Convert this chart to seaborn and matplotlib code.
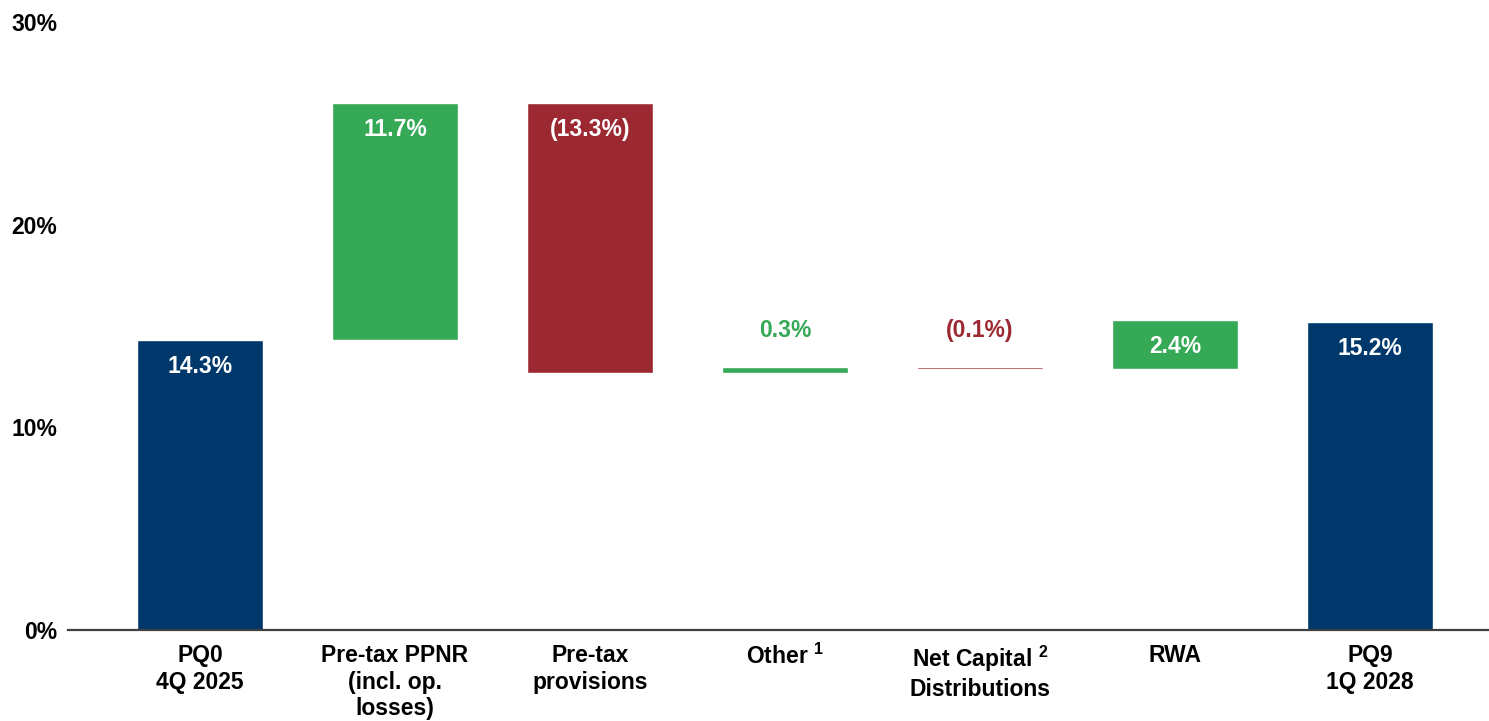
"""
Waterfall: evolución del ratio de capital PQ0 -> PQ9
"""
import numpy as np
import pandas as pd
import matplotlib
matplotlib.use("Agg")
import matplotlib.pyplot as plt
import seaborn as sns

# Datos
categories = ["PQ0\n4Q 2025", "Pre-tax PPNR\n(incl. op.\nlosses)", "Pre-tax\nprovisions",
              "Other $^{1}$", "Net Capital $^{2}$\nDistributions", "RWA", "PQ9\n1Q 2028"]
start_value = 14.3
deltas = [11.7, -13.3, 0.3, -0.1, 2.4]
end_value = 15.2
value_labels = ["14.3%", "11.7%", "(13.3%)", "0.3%", "(0.1%)", "2.4%", "15.2%"]
label_inside = [True, True, True, False, False, True, True]

NAVY = "#00386B"
GREEN = "#35A955"
RED = "#9C2832"

# Construcción del waterfall (tope y base de cada barra)
levels = np.concatenate([[start_value], start_value + np.cumsum(deltas)])
tops, bottoms, colors = [start_value], [0.0], [NAVY]
for i, d in enumerate(deltas):
    tops.append(max(levels[i], levels[i + 1]))
    bottoms.append(min(levels[i], levels[i + 1]))
    colors.append(GREEN if d > 0 else RED)
tops.append(end_value)
bottoms.append(0.0)
colors.append(NAVY)

df = pd.DataFrame({"cat": categories, "top": tops, "bottom": bottoms})

sns.set_style("white")
plt.rcParams["font.family"] = ["Liberation Sans", "DejaVu Sans"]
plt.rcParams["mathtext.fontset"] = "custom"
plt.rcParams["mathtext.rm"] = "Liberation Sans:bold"
plt.rcParams["mathtext.default"] = "rm"

fig = plt.figure(figsize=(14.89, 7.21), dpi=100)
ax = fig.add_axes([0.0457, 0.126, 0.9543, 0.8435])

sns.barplot(data=df, x="cat", y="top", hue="cat", palette=colors, order=categories,
            width=0.65, saturation=1, legend=False, ax=ax)
# tapar la parte inferior con barras blancas
sns.barplot(data=df, x="cat", y="bottom", color="white", order=categories,
            width=0.66, saturation=1, ax=ax)

# Etiquetas de valor
for i, (lab, inside) in enumerate(zip(value_labels, label_inside)):
    if inside:
        ax.annotate(lab, xy=(i, tops[i]), xytext=(0, -19), textcoords="offset points",
                    ha="center", va="center", color="white", fontsize=16.5, fontweight="bold")
    else:
        ax.annotate(lab, xy=(i, tops[i]), xytext=(0, 26), textcoords="offset points",
                    ha="center", va="center", color=colors[i], fontsize=16.5, fontweight="bold")

ax.set_ylim(0, 30)
ax.set_xlim(-0.677, 6.61)
ax.set_yticks([0, 10, 20, 30])
ax.set_yticklabels(["0%", "10%", "20%", "30%"])
ax.set_xlabel("")
ax.set_ylabel("")
ax.tick_params(axis="both", length=0, labelsize=16.5, labelcolor="black")
ax.tick_params(axis="x", pad=10)
ax.tick_params(axis="y", pad=8)
for lbl in ax.get_xticklabels() + ax.get_yticklabels():
    lbl.set_fontweight("bold")

sns.despine(ax=ax, left=True)
ax.spines["bottom"].set_color("#404040")
ax.spines["bottom"].set_linewidth(1.6)
ax.spines["bottom"].set_zorder(5)

fig.savefig("out.png", dpi=100)
